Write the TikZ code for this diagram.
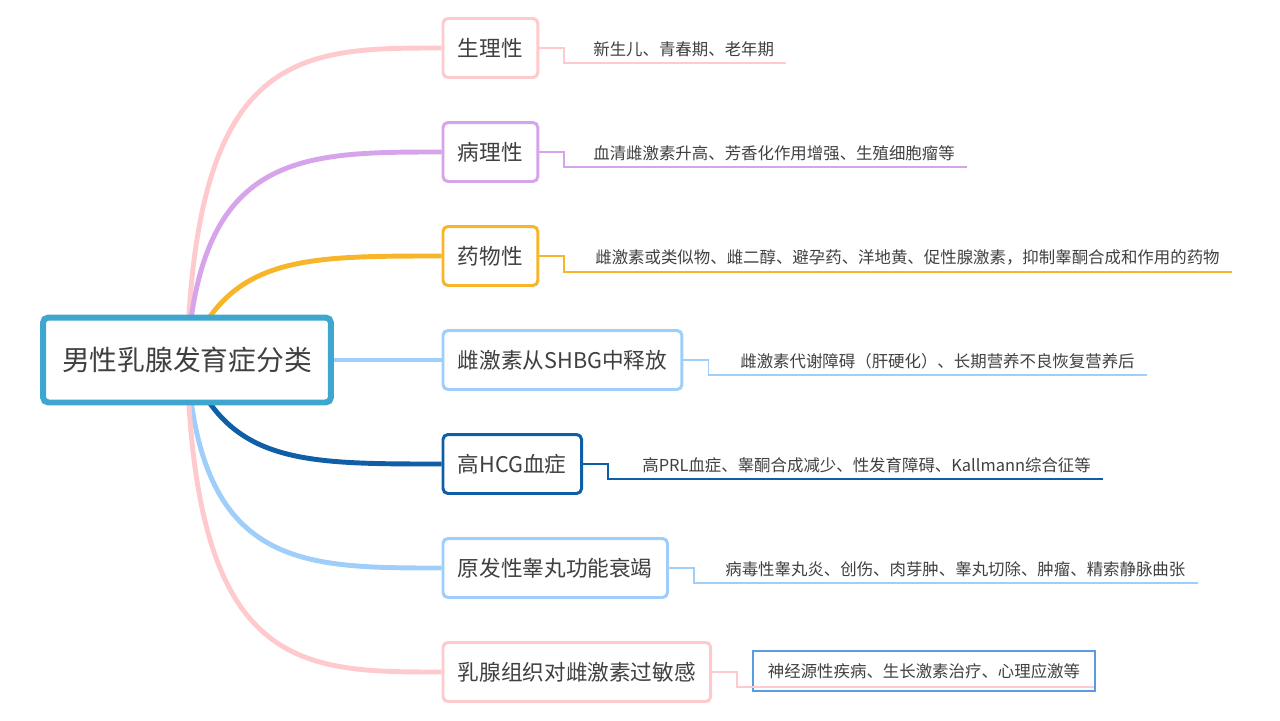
\documentclass[tikz,border=0pt]{standalone}
\usepackage{fontspec}
\setmainfont{Noto Sans CJK SC}
\usetikzlibrary{backgrounds,calc}

\definecolor{rootblue}{HTML}{3FA7CF}
\definecolor{pinkline}{HTML}{FFCACD}
\definecolor{purpleline}{HTML}{D6A4EA}
\definecolor{orangeline}{HTML}{F7B52A}
\definecolor{skyline}{HTML}{9ECEF9}
\definecolor{navyline}{HTML}{0F5EA8}
\definecolor{selblue}{HTML}{5A9CE2}
\definecolor{txtgray}{HTML}{404040}

\begin{document}
\begin{tikzpicture}[x=0.02cm,y=-0.02cm,
    rootbox/.style={draw=rootblue, line width=3.4pt, fill=white, rounded corners=3pt,
      minimum width=5.76cm, minimum height=1.7cm, text=txtgray,
      font=\fontsize{15.8}{18}\selectfont},
    topicbox/.style={draw=#1, line width=1.7pt, fill=white, rounded corners=2.8pt,
      minimum height=1.18cm, inner xsep=0.3cm, anchor=west, text=txtgray,
      font=\fontsize{12.3}{14}\selectfont},
    leaftext/.style={anchor=south west, inner xsep=0.24cm, inner ysep=0.12cm,
      text=txtgray, font=\fontsize{9.35}{11}\selectfont},
    branch/.style={line width=2.8pt, draw=#1},
    twig/.style={line width=1.1pt, draw=#1}]
    \useasboundingbox (0,0) rectangle (1280,720);

    % Draw the central topic
    \node[rootbox] (root) at (187,360) {男性乳腺发育症分类};

    % Draw the main branches
    \node[topicbox=pinkline] (physio) at (441.5,48) {生理性};
    \node[topicbox=purpleline] (patho) at (441.5,152) {病理性};
    \node[topicbox=orangeline] (drug) at (441.5,256) {药物性};
    \node[topicbox=skyline] (shbg) at (441.5,360) {雌激素从SHBG中释放};
    \node[topicbox=navyline] (hcg) at (441.5,464) {高HCG血症};
    \node[topicbox=skyline] (testis) at (441.5,568) {原发性睾丸功能衰竭};
    \node[topicbox=pinkline] (sensitive) at (441.5,672) {乳腺组织对雌激素过敏感};

    % Draw the curved connectors behind the boxes
    \begin{scope}[on background layer]
      \draw[branch=pinkline] (root.center) .. controls (195,48) and (300,48) .. (physio.west);
      \draw[branch=purpleline] (root.center) .. controls (200,152) and (300,152) .. (patho.west);
      \draw[branch=orangeline] (root.center) .. controls (228,256) and (300,256) .. (drug.west);
      \draw[branch=skyline] (root.east) -- (shbg.west);
      \draw[branch=navyline] (root.center) .. controls (228,464) and (300,464) .. (hcg.west);
      \draw[branch=skyline] (root.center) .. controls (200,568) and (300,568) .. (testis.west);
      \draw[branch=pinkline] (root.center) .. controls (195,672) and (300,672) .. (sensitive.west);
    \end{scope}

    % Draw the details
    \node[leaftext] (physioleaf) at (581,63) {新生儿、青春期、老年期};
    \node[leaftext] (patholeaf) at (581,167) {血清雌激素升高、芳香化作用增强、生殖细胞瘤等};
    \node[leaftext] (drugleaf) at (583,272) {雌激素或类似物、雌二醇、避孕药、洋地黄、促性腺激素，抑制睾酮合成和作用的药物};
    \node[leaftext] (shbgleaf) at (728,375) {雌激素代谢障碍（肝硬化）、长期营养不良恢复营养后};
    \node[leaftext] (hcgleaf) at (630,479) {高PRL血症、睾酮合成减少、性发育障碍、Kallmann综合征等};
    \node[leaftext] (testisleaf) at (713,583) {病毒性睾丸炎、创伤、肉芽肿、睾丸切除、肿瘤、精索静脉曲张};
    \node[leaftext, anchor=center, draw=selblue, line width=1.1pt, inner xsep=0.3cm,
      minimum height=0.8cm] (sensitiveleaf) at (924,671) {神经源性疾病、生长激素治疗、心理应激等};

    % Draw the elbow lines to the details
    \draw[twig=pinkline] (physio.east) -- ++(25,0) |- (physioleaf.south east);
    \draw[twig=purpleline] (patho.east) -- ++(25,0) |- (patholeaf.south east);
    \draw[twig=orangeline] (drug.east) -- ++(25,0) |- (drugleaf.south east);
    \draw[twig=skyline] (shbg.east) -- ++(25,0) |- (shbgleaf.south east);
    \draw[twig=navyline] (hcg.east) -- ++(25,0) |- (hcgleaf.south east);
    \draw[twig=skyline] (testis.east) -- ++(25,0) |- (testisleaf.south east);
    \draw[twig=pinkline] (sensitive.east) -- ++(25,0) |- ($(sensitiveleaf.south east)+(-2,-5)$);
  \end{tikzpicture}
\end{document}
